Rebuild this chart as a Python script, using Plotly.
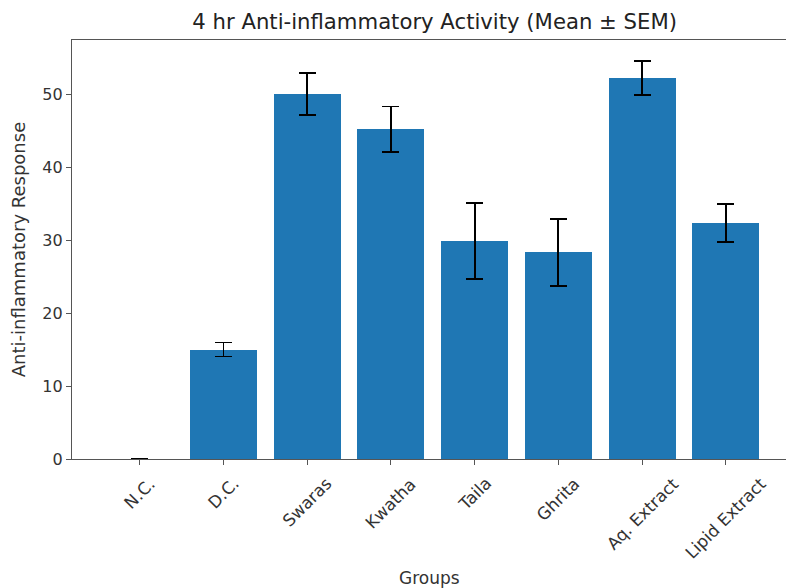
import plotly.graph_objects as go

groups = ["N.C.", "D.C.", "Swaras", "Kwatha", "Taila", "Ghrita", "Aq. Extract", "Lipid Extract"]
means = [0.0, 15.0, 50.0, 45.2, 29.9, 28.3, 52.2, 32.3]
sems = [0.0, 0.95, 2.9, 3.1, 5.2, 4.6, 2.3, 2.6]

x_idx = list(range(len(groups)))

fig = go.Figure()
fig.add_trace(go.Bar(
    x=x_idx, y=means, width=0.8,
    marker=dict(color="#1f77b4", line=dict(width=0)),
    error_y=dict(type="data", array=sems, visible=True, color="black", thickness=1.8, width=8.5),
))

font = "DejaVu Sans, sans-serif"
fig.update_layout(
    width=786, height=588,
    margin=dict(l=72, r=0, t=40, b=129),
    paper_bgcolor="white", plot_bgcolor="white",
    showlegend=False,
    font=dict(family=font, size=16, color="#333"),
    title=dict(text="4 hr Anti-inflammatory Activity (Mean ± SEM)", x=0.553, xanchor="center",
               y=0.963, yanchor="middle", font=dict(size=21.2, color="#222")),
    bargap=0,
)
# rotated tick labels centred on their ticks (matplotlib rotation=45 style)
for i, g in zip(x_idx, groups):
    fig.add_annotation(x=i, y=0, xref="x", yref="paper", text=g, showarrow=False,
                       textangle=-45, xanchor="center", yanchor="top", yshift=-12,
                       font=dict(size=16.8, color="#333"))
fig.add_annotation(x=0.5, y=0, xref="paper", yref="paper", text="Groups", showarrow=False,
                   xanchor="center", yanchor="middle", yshift=-119,
                   font=dict(size=17, color="#333"))

fig.update_xaxes(
    tickmode="array", tickvals=x_idx, showticklabels=False,
    range=[-0.81, 7.72], showgrid=False, zeroline=False,
    showline=True, linecolor="#555", linewidth=1.3, mirror=True,
    ticks="outside", ticklen=5, tickcolor="#555",
)
fig.update_yaxes(
    range=[0, 57.4], tickvals=[0, 10, 20, 30, 40, 50], showgrid=False, zeroline=False,
    showline=True, linecolor="#555", linewidth=1.3,
    ticks="outside", ticklen=5, tickcolor="#555",
    tickfont=dict(size=16),
    title=dict(text="Anti-inflammatory Response", font=dict(size=18), standoff=11),
)

fig.write_html("out.html", post_script="document.body.style.margin='0';",
               config={"displayModeBar": False})
